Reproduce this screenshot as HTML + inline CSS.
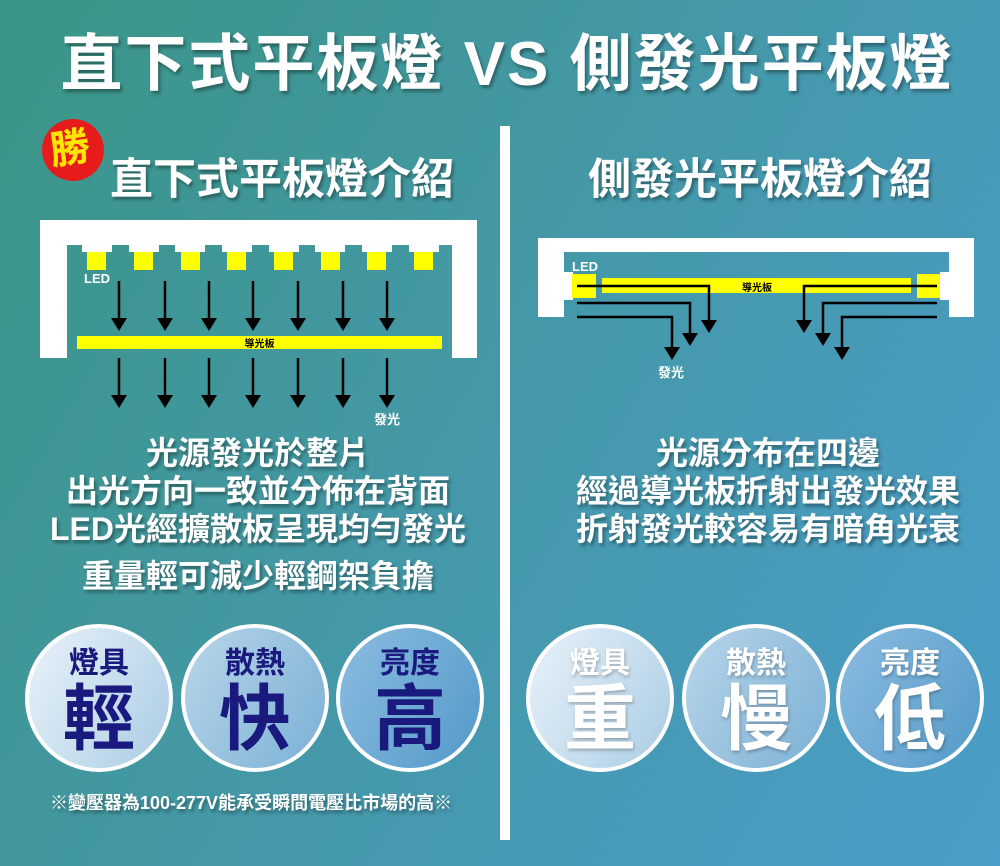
<!DOCTYPE html>
<html><head><meta charset="utf-8"><style>
*{margin:0;padding:0;box-sizing:border-box}
body{width:1000px;height:866px;overflow:hidden;position:relative;font-family:"Liberation Sans","Noto Sans CJK TC",sans-serif;font-weight:bold;
background:linear-gradient(120deg,#3a9585 0%,#4498a6 45%,#4a9dc8 100%);}
.a{position:absolute;white-space:nowrap}
.t{color:#fff;text-shadow:2px 3px 3px rgba(0,0,0,.35)}
.c{position:absolute;border:4px solid #fff;border-radius:50%;width:148px;height:148px;text-align:center}
.c .s{display:block;font-size:30px;line-height:32px;margin-top:20px}
.c .b{display:block;font-size:72px;line-height:76px;margin-top:2px}
.g1{background:linear-gradient(120deg,#e8f2f9 0%,#c4dced 60%,#a9cbe3 100%)}
.g2{background:linear-gradient(120deg,#b9d6ea 0%,#93bfdd 60%,#7cb1d6 100%)}
.g3{background:linear-gradient(120deg,#8cbbe0 0%,#6aa8d2 60%,#5299c8 100%)}
.L{color:#1a1a7e}.R{color:#fff;text-shadow:1px 2px 3px rgba(0,0,0,.25)}
.body{font-size:32px;line-height:38px;text-align:center}
</style></head><body>
<div class="a t" style="left:0;width:1000px;text-align:center;top:25px;font-size:62px;line-height:80px;letter-spacing:2px;padding-left:14px">直下式平板燈 VS 側發光平板燈</div>
<div class="a" style="left:500px;top:126px;width:10px;height:714px;background:#fff"></div>

<div class="a" style="left:42px;top:119px;width:62px;height:62px;border-radius:50%;background:#e61b1b"></div>
<div class="a" style="left:50px;top:126px;font-size:40px;line-height:46px;color:#ffe600;transform:rotate(-8deg)">勝</div>
<div class="a t" style="left:110px;top:154px;font-size:43px;line-height:52px">直下式平板燈介紹</div>
<div class="a t" style="left:588px;top:154px;font-size:43px;line-height:52px">側發光平板燈介紹</div>

<svg class="a" style="left:0;top:0" width="1000" height="866">
<g fill="#fff"><path d="M40 220H477V358H452V245H67V358H40Z"/>
<rect x="82" y="244" width="30" height="8"/><rect x="129" y="244" width="30" height="8"/><rect x="175" y="244" width="30" height="8"/><rect x="222" y="244" width="30" height="8"/><rect x="269" y="244" width="30" height="8"/><rect x="315" y="244" width="30" height="8"/><rect x="362" y="244" width="30" height="8"/><rect x="409" y="244" width="30" height="8"/></g>
<g fill="#ffff00"><rect x="87" y="252" width="19" height="18"/><rect x="134" y="252" width="19" height="18"/><rect x="181" y="252" width="19" height="18"/><rect x="227" y="252" width="19" height="18"/><rect x="274" y="252" width="19" height="18"/><rect x="321" y="252" width="19" height="18"/><rect x="367" y="252" width="19" height="18"/><rect x="414" y="252" width="19" height="18"/>
<rect x="77" y="336" width="365" height="13"/></g>
<g stroke="#000" stroke-width="2.5">
<path d="M119 281V320M165 281V320M209 281V320M253 281V320M298 281V320M343 281V320M387 281V320M119 358V397M165 358V397M209 358V397M253 358V397M298 358V397M343 358V397M387 358V397"/></g>
<g fill="#000">
<path d="M111 318h16l-8 13zM157 318h16l-8 13zM201 318h16l-8 13zM245 318h16l-8 13zM290 318h16l-8 13zM335 318h16l-8 13zM379 318h16l-8 13z"/>
<path d="M111 395h16l-8 13zM157 395h16l-8 13zM201 395h16l-8 13zM245 395h16l-8 13zM290 395h16l-8 13zM335 395h16l-8 13zM379 395h16l-8 13z"/></g>
<text x="259.5" y="347" font-size="10" text-anchor="middle" fill="#000" font-weight="bold">導光板</text>
<text x="84" y="283" font-size="13" fill="#fff" font-weight="bold">LED</text>
<text x="374" y="424" font-size="13" fill="#fff" font-weight="bold">發光</text>

<path fill="#fff" d="M538 238H974V317H949V252H564V317H538Z"/>
<rect x="564" y="272" width="9" height="28" fill="#fff"/><rect x="940" y="272" width="9" height="28" fill="#fff"/>
<g fill="#ffff00"><rect x="572" y="274" width="24" height="24"/><rect x="917" y="274" width="23" height="24"/><rect x="602" y="278" width="309" height="15"/></g>
<text x="757" y="291" font-size="10" text-anchor="middle" fill="#000" font-weight="bold">導光板</text>
<g stroke="#000" stroke-width="2.5" fill="none">
<path d="M577 286H709V322M577 303H690V335M577 317H672V349M937 286H804V322M937 303H823V335M937 317H842V349"/></g>
<g fill="#000"><path d="M701 320h16l-8 13zM682 333h16l-8 13zM664 347h16l-8 13zM796 320h16l-8 13zM815 333h16l-8 13zM834 347h16l-8 13z"/></g>
<text x="572" y="271" font-size="13" fill="#fff" font-weight="bold">LED</text>
<text x="658" y="377" font-size="13" fill="#fff" font-weight="bold">發光</text>
</svg>

<div class="a t body" style="left:18px;width:480px;top:434px">光源發光於整片<br>出光方向一致並分佈在背面<br>LED光經擴散板呈現均勻發光</div>
<div class="a t body" style="left:18px;width:480px;top:557px">重量輕可減少輕鋼架負擔</div>
<div class="a t body" style="left:528px;width:480px;top:434px">光源分布在四邊<br>經過導光板折射出發光效果<br>折射發光較容易有暗角光衰</div>

<div class="c L g1" style="left:25px;top:624px"><span class="s">燈具</span><span class="b">輕</span></div>
<div class="c L g2" style="left:181px;top:624px"><span class="s">散熱</span><span class="b">快</span></div>
<div class="c L g3" style="left:336px;top:624px"><span class="s">亮度</span><span class="b">高</span></div>
<div class="c R g1" style="left:526px;top:624px"><span class="s">燈具</span><span class="b">重</span></div>
<div class="c R g2" style="left:682px;top:624px"><span class="s">散熱</span><span class="b">慢</span></div>
<div class="c R g3" style="left:836px;top:624px"><span class="s">亮度</span><span class="b">低</span></div>

<div class="a t" style="left:50px;top:792px;font-size:18px;line-height:22px">※變壓器為100-277V能承受瞬間電壓比市場的高※</div>
</body></html>
